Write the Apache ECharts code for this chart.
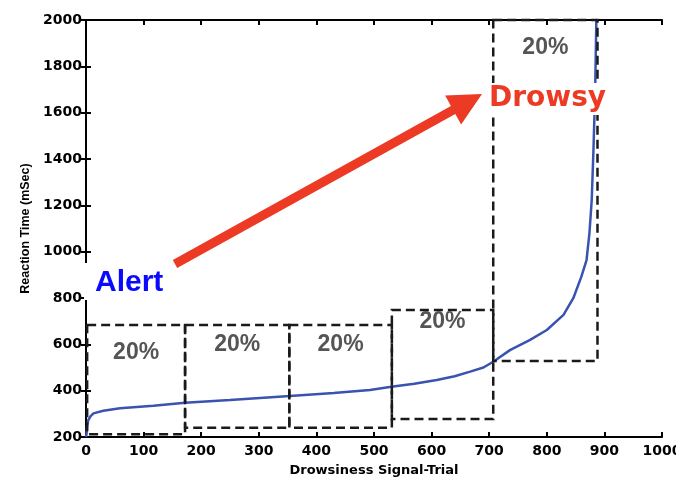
<!DOCTYPE html>
<html>
<head>
<meta charset="utf-8">
<script src="https://cdn.jsdelivr.net/npm/echarts@6/dist/echarts.min.js"></script>
<style>html,body{margin:0;padding:0;background:#fff;}#chart{width:676px;height:481px;}</style>
</head>
<body>
<div id="chart"></div>
<script>
// Sorted reaction times (ms) per drowsiness signal-trial
var trial = [0, 1, 2, 4, 8, 13, 30, 59, 117, 172, 250, 354, 430, 493, 530, 570, 609, 640, 667, 690, 707, 736, 771, 800, 829, 846, 860, 869, 874, 878, 881, 884, 886];
var reactionTime = [200, 216, 250, 273, 290, 302, 313, 324, 335, 348, 360, 377, 390, 403, 417, 430, 446, 462, 482, 500, 525, 575, 619, 662, 727, 799, 892, 964, 1079, 1223, 1439, 1700, 2000];

// 20% quantile boxes (data units)
var boxStart = [2, 172, 353, 531, 707];
var boxEnd = [172, 353, 531, 707, 888];
var boxLow = [212, 240, 240, 278, 528];
var boxHigh = [683, 683, 683, 748, 2000];
var boxLabelY = [562, 597, 597, 696, 1879];
var boxLabels = ['20%', '20%', '20%', '20%', '20%'];

// Axis ticks
var xTicks = { min: 0, max: 1000, interval: 100 };
var yTicks = { min: 200, max: 2000, interval: 200 };

var lineData = trial.map(function (t, i) { return [t, reactionTime[i]]; });
var boxData = boxStart.map(function (s, i) {
  return [s, boxEnd[i], boxLow[i], boxHigh[i], boxLabelY[i], boxLabels[i]];
});

var plain = function (v) { return String(v); };
var tickFont = { fontFamily: 'DejaVu Sans', fontWeight: 'bold', fontSize: 14, color: '#000', formatter: plain };
var axisLine = { show: true, lineStyle: { color: '#000', width: 2 } };
var axisTick = { show: true, inside: true, length: 5, lineStyle: { color: '#000', width: 2 } };

// arrow geometry
var start = [175, 264], tip = [482, 94];
var dx = tip[0] - start[0], dy = tip[1] - start[1];
var len = Math.sqrt(dx * dx + dy * dy);
var ux = dx / len, uy = dy / len, nx = -uy, ny = ux;
var shaftHalf = 4.5, headLen = 33, headHalf = 16.5;
var bx = tip[0] - ux * headLen, by = tip[1] - uy * headLen;
var arrowPts = [
  [start[0] - nx * shaftHalf, start[1] - ny * shaftHalf],
  [bx - nx * shaftHalf, by - ny * shaftHalf],
  [bx - nx * headHalf, by - ny * headHalf],
  tip,
  [bx + nx * headHalf, by + ny * headHalf],
  [bx + nx * shaftHalf, by + ny * shaftHalf],
  [start[0] + nx * shaftHalf, start[1] + ny * shaftHalf]
];

var chart = echarts.init(document.getElementById('chart'), null, { renderer: 'canvas' });
chart.setOption({
  animation: false,
  backgroundColor: '#fff',
  grid: { left: 86, right: 14, top: 20, bottom: 44, containLabel: false, outerBoundsMode: 'none' },
  xAxis: [{
    type: 'value', position: 'bottom', min: xTicks.min, max: xTicks.max, interval: xTicks.interval,
    axisLine: axisLine, axisTick: axisTick, splitLine: { show: false },
    axisLabel: Object.assign({ margin: 7 }, tickFont),
    name: 'Drowsiness Signal-Trial', nameLocation: 'middle', nameGap: 27,
    nameTextStyle: { fontFamily: 'DejaVu Sans', fontWeight: 'bold', fontSize: 13, color: '#000' }
  }, {
    type: 'value', position: 'top', min: xTicks.min, max: xTicks.max, interval: xTicks.interval,
    axisLine: axisLine, axisTick: axisTick, splitLine: { show: false }, axisLabel: { show: false }
  }],
  yAxis: [{
    type: 'value', position: 'left', min: yTicks.min, max: yTicks.max, interval: yTicks.interval,
    axisLine: axisLine, axisTick: axisTick, splitLine: { show: false },
    axisLabel: Object.assign({ margin: 4 }, tickFont),
    name: 'Reaction Time (mSec)', nameLocation: 'middle', nameRotate: 90, nameGap: 52,
    nameTextStyle: { fontFamily: 'Liberation Sans', fontWeight: 'bold', fontSize: 12.5, color: '#000' }
  }, {
    type: 'value', position: 'right', min: yTicks.min, max: yTicks.max, interval: yTicks.interval,
    axisLine: axisLine, axisTick: axisTick, splitLine: { show: false }, axisLabel: { show: false }
  }],
  series: [{
    type: 'line', data: lineData, xAxisIndex: 0, yAxisIndex: 0,
    showSymbol: false, symbol: 'none', z: 3,
    lineStyle: { color: '#3a52b0', width: 2.5 }
  }, {
    type: 'custom', data: boxData, xAxisIndex: 0, yAxisIndex: 0, z: 5, clip: false,
    encode: { x: [0, 1], y: [2, 3] },
    renderItem: function (params, api) {
      var x0 = api.value(0), x1 = api.value(1), y0 = api.value(2), y1 = api.value(3);
      var ly = api.value(4);
      var tl = api.coord([x0, y1]);
      var br = api.coord([x1, y0]);
      var lc = api.coord([(x0 + x1) / 2, ly]);
      return {
        type: 'group',
        children: [{
          type: 'rect',
          shape: { x: tl[0], y: tl[1], width: br[0] - tl[0], height: br[1] - tl[1] },
          style: { fill: 'none', stroke: '#1a1a1a', lineWidth: 2.5, lineDash: [9, 5] }
        }, {
          type: 'text',
          style: {
            x: lc[0], y: lc[1], text: boxLabels[params.dataIndex],
            align: 'center', verticalAlign: 'middle',
            font: 'bold 23px "Liberation Sans", Arial, sans-serif', fill: '#555555'
          }
        }]
      };
    }
  }],
  graphic: [{
    type: 'polygon', z: 100,
    shape: { points: arrowPts },
    style: { fill: '#ed3a24' }
  }, {
    type: 'rect', z: 100,
    shape: { x: 84, y: 263, width: 86, height: 37 },
    style: { fill: '#ffffff' }
  }, {
    type: 'text', z: 101,
    style: {
      x: 95, y: 283, text: 'Alert', align: 'left', verticalAlign: 'middle',
      font: 'bold 30px "Liberation Sans", Arial, sans-serif', fill: '#0a0aff'
    }
  }, {
    type: 'text', z: 101,
    style: {
      x: 487, y: 99, text: 'Drowsy', align: 'left', verticalAlign: 'middle',
      font: 'bold 28px "DejaVu Sans", sans-serif', fill: '#ed3a24',
      backgroundColor: '#ffffff', padding: [2, 2, 2, 2]
    }
  }]
});
</script>
</body>
</html>
